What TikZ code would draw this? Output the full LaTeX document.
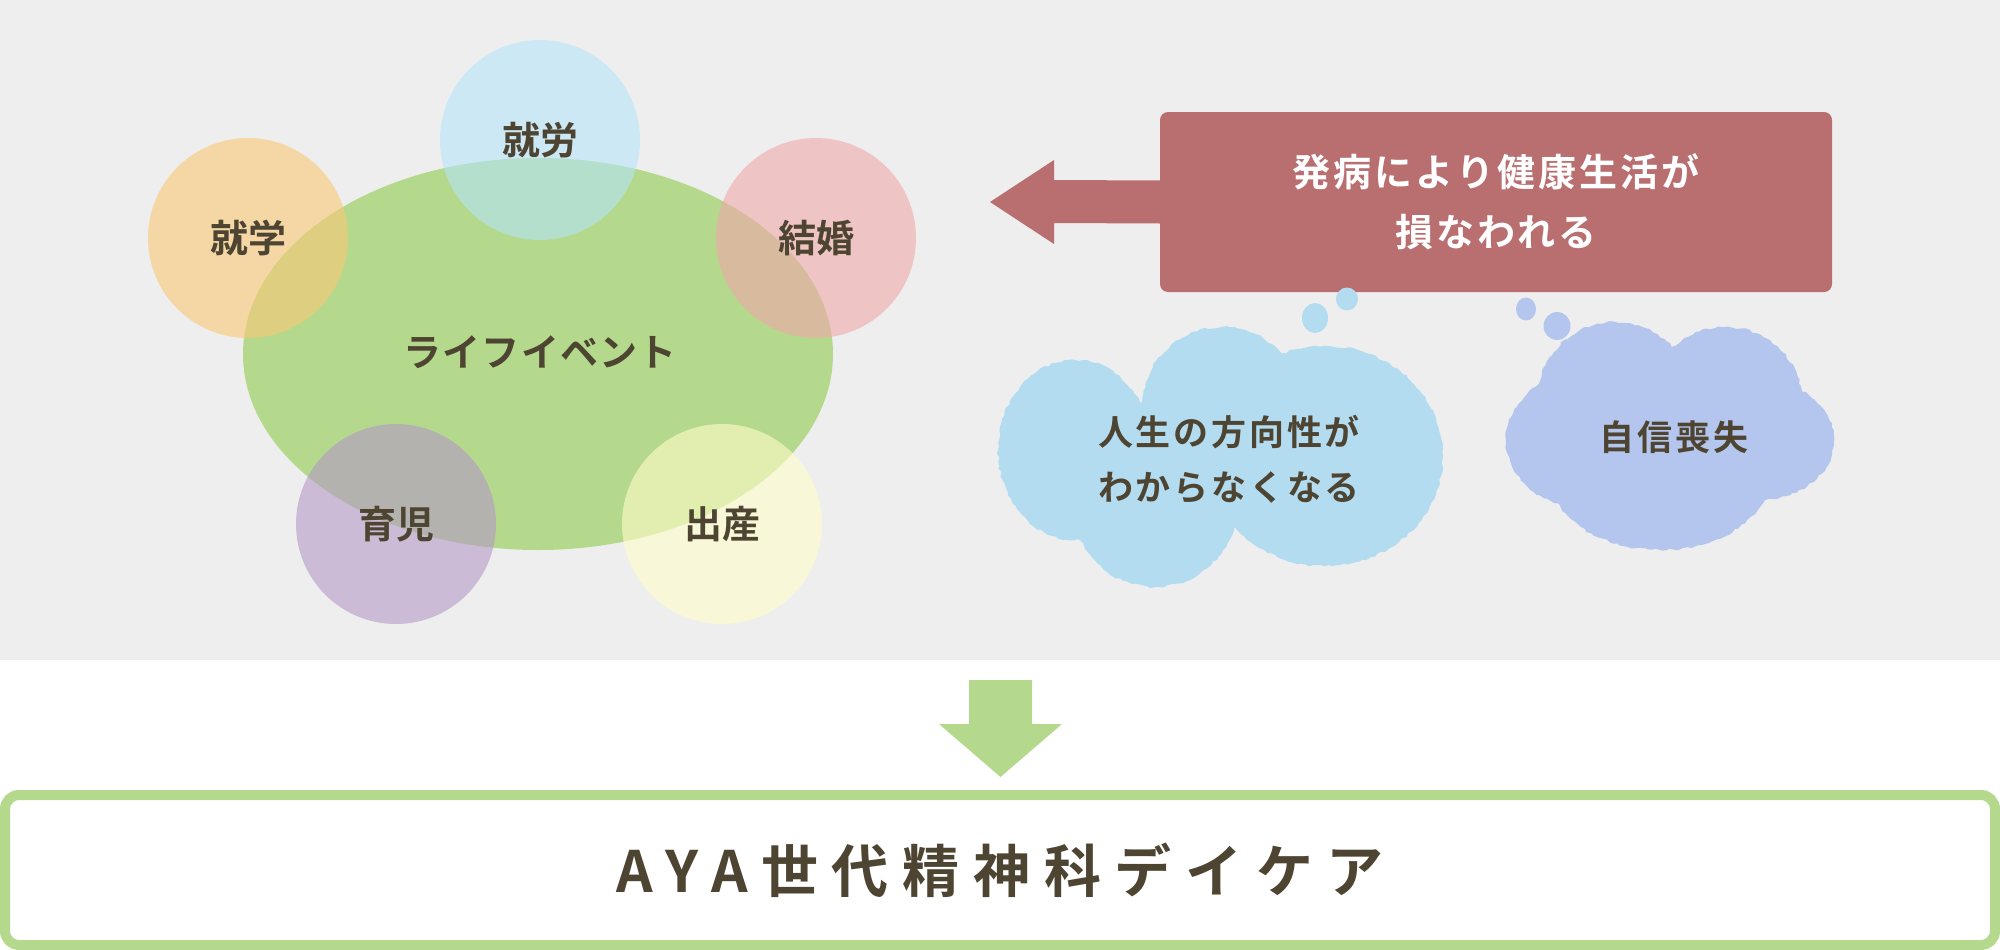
\documentclass[tikz,border=0pt]{standalone}
\usepackage{fontspec}
\setmainfont{Noto Sans CJK JP}[UprightFont=* Medium, BoldFont=* Bold]
\usetikzlibrary{decorations.pathmorphing}

\definecolor{bggray}{RGB}{238,238,238}
\definecolor{textbrown}{RGB}{78,68,50}
\definecolor{lifegreen}{RGB}{180,217,141}
\definecolor{studyorange}{RGB}{251,200,118}
\definecolor{workblue}{RGB}{181,228,248}
\definecolor{marrypink}{RGB}{241,168,171}
\definecolor{childpurple}{RGB}{180,153,198}
\definecolor{birthyellow}{RGB}{255,253,200}
\definecolor{onsetred}{RGB}{185,110,112}
\definecolor{cloudblue}{RGB}{179,220,241}
\definecolor{cloudlilac}{RGB}{180,198,238}

\tikzset{
  event/.style={circle, minimum size=200pt, inner sep=0pt, fill opacity=0.6,
    text opacity=1, text=textbrown, font=\fontsize{38}{38}\selectfont\bfseries},
  lifetext/.style={text=textbrown,
    font=\fontsize{38}{38}\selectfont\bfseries\addfontfeature{LetterSpace=3}},
  onsetbox/.style={rectangle, rounded corners=8pt, fill=onsetred, text=white,
    minimum width=672pt, minimum height=180pt, inner sep=0pt, align=center,
    font=\fontsize{38}{60}\selectfont\bfseries\addfontfeature{LetterSpace=8}},
  cloudtext/.style={text=textbrown, align=center,
    font=\fontsize{35}{55}\selectfont\bfseries\addfontfeature{LetterSpace=8}},
  puff/.style={decorate, decoration={random steps, segment length=4pt, amplitude=1.2pt}},
  daycarebox/.style={rectangle, draw=lifegreen, line width=10pt, rounded corners=14pt,
    fill=white, minimum width=1990pt, minimum height=150pt, inner sep=0pt,
    text=textbrown, font=\fontsize{57}{57}\selectfont\bfseries\addfontfeature{LetterSpace=24}}
}

\begin{document}
\begin{tikzpicture}[x=1pt, y=-1pt]
  \useasboundingbox (0,0) rectangle (2000,950);
  \pgfmathsetseed{11}

  % upper panel
  \fill[bggray] (0,0) rectangle (2000,660);

  % life events
  \fill[lifegreen] (538,354) ellipse (295 and 196);
  \node[lifetext] (life) at (540,352) {ライフイベント};
  \node[event, fill=workblue] (work) at (540,140) {就労};
  \node[event, fill=studyorange] (study) at (248,238) {就学};
  \node[event, fill=marrypink] (marry) at (816,238) {結婚};
  \node[event, fill=childpurple] (child) at (396,524) {育児};
  \node[event, fill=birthyellow] (birth) at (722,524) {出産};

  % onset box and arrow
  \node[onsetbox] (onset) at (1496,202) {発病により健康生活が\\損なわれる};
  \coordinate (tip) at (990,202);
  \fill[onsetred] ([yshift=21.5pt]onset.west) -- (1054,180) -- (1054,160) -- (tip)
    -- (1054,244) -- (1054,223) -- ([yshift=-21.5pt]onset.west) -- cycle;

  % thought clouds
  \begin{scope}[fill=cloudblue]
    \fill (1315,318) ellipse (13 and 15);
    \fill (1347,299) ellipse (11 and 11.5);
    \fill[puff] (1075,450) ellipse (77 and 90);
    \fill[puff] (1222,407) ellipse (80 and 80);
    \fill[puff] (1325,456) ellipse (118 and 110);
    \fill[puff] (1155,505) ellipse (82 and 82);
  \end{scope}
  \node[cloudtext] (lost) at (1229,459) {人生の方向性が\\わからなくなる};

  \begin{scope}[fill=cloudlilac]
    \fill (1526,309) ellipse (10 and 11.5);
    \fill (1557,326) ellipse (13.5 and 14);
    \fill[puff] (1615,400) ellipse (78 and 78);
    \fill[puff] (1725,405) ellipse (78 and 78);
    \fill[puff] (1586,440) ellipse (80 and 68);
    \fill[puff] (1760,440) ellipse (74 and 60);
    \fill[puff] (1660,475) ellipse (110 and 75);
  \end{scope}
  \node[cloudtext] (confidence) at (1674,437) {自信喪失};

  % day care
  \node[daycarebox] (daycare) at (1000,870) {AYA世代精神科デイケア};
  \fill[lifegreen] (969,680) -- (1032,680) -- (1032,724) -- (1062,724)
    -- (1000.5,777) -- (939,724) -- (969,724) -- cycle;
\end{tikzpicture}
\end{document}
